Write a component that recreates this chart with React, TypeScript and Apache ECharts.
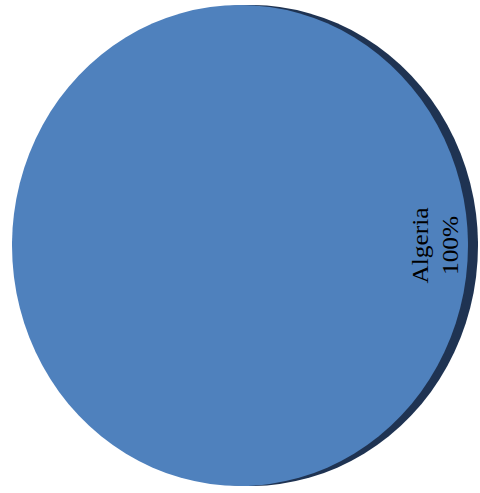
import React, { useEffect, useRef } from "react";
import * as echarts from "echarts";

const categories = ["Algeria"];
const values = [100];
const sliceColors = ["#4f81bd"];

export default function App() {
  const ref = useRef<HTMLDivElement>(null);
  useEffect(() => {
    if (!ref.current) return;
    const chart = echarts.init(ref.current, null, { renderer: "svg" });
    const data = categories.map((c, i) => ({ name: c, value: values[i] }));
    const total = values.reduce((a, b) => a + b, 0);
    chart.setOption({
      animation: false,
      backgroundColor: "#ffffff",
      series: [
        {
          type: "pie",
          z: 1,
          silent: true,
          center: [250, 245.5],
          radius: 228,
          startAngle: 180,
          data,
          itemStyle: { color: "#1f3352", borderWidth: 0 },
          label: { show: false },
          labelLine: { show: false },
        },
        {
          type: "pie",
          z: 2,
          center: [240, 245.5],
          radius: 228,
          startAngle: 180,
          data: data.map((d, i) => ({ ...d, itemStyle: { color: sliceColors[i] } })),
          itemStyle: { borderWidth: 0 },
          label: {
            show: true,
            position: "inside",
            rotate: 90,
            align: "center",
            verticalAlign: "middle",
            formatter: (p: any) => `${p.name}\n${Math.round((p.value / total) * 100)}%`,
            fontFamily: "'Liberation Serif', 'Times New Roman', serif",
            fontSize: 24,
            lineHeight: 30,
            color: "#000000",
          },
          labelLine: { show: false },
          labelLayout: { x: 435, y: 245.5, align: "center", verticalAlign: "middle" },
        },
      ],
    });
    return () => chart.dispose();
  }, []);
  return (
    <div
      ref={ref}
      style={{
        position: "fixed",
        left: 0,
        top: 0,
        width: 480,
        height: 493,
        transform: "scaleY(1.055)",
        transformOrigin: "240px 245.5px",
      }}
    />
  );
}
